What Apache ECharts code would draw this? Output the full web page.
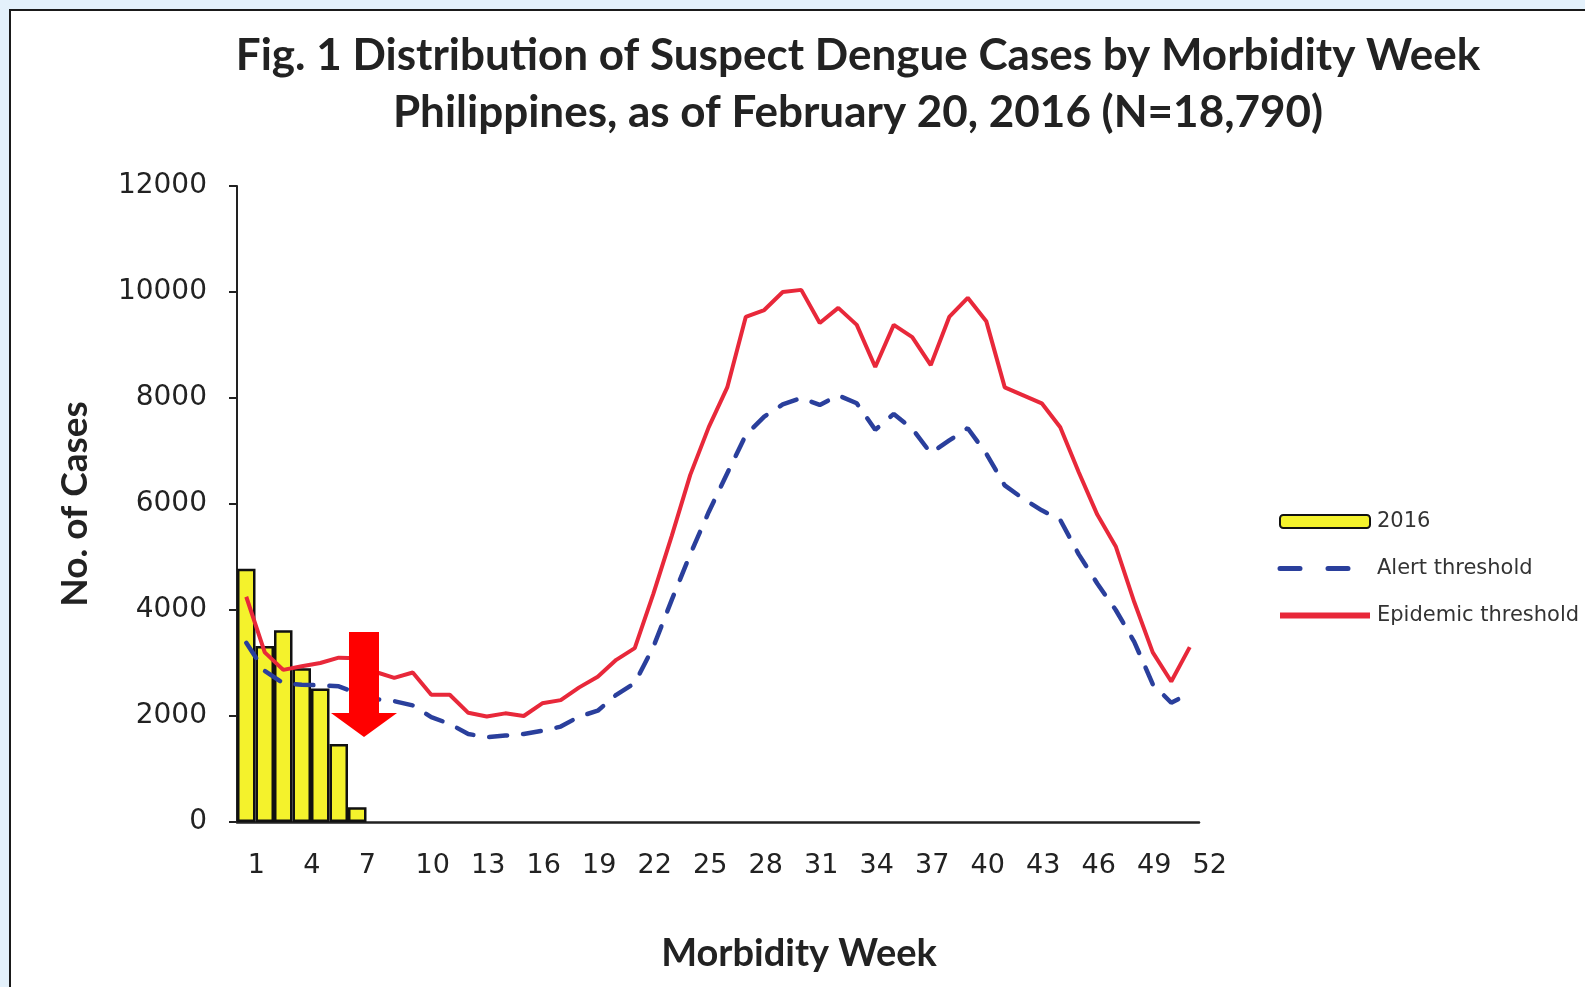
<!DOCTYPE html>
<html>
<head>
<meta charset="utf-8">
<script src="https://cdn.jsdelivr.net/npm/echarts@6/dist/echarts.min.js"></script>
<style>
  html, body { margin: 0; padding: 0; background: #e4f1fb; }
  #main { width: 1585px; height: 987px; }
</style>
</head>
<body>
<div id="main"></div>
<script>
// weeks 1..52
var weeks = [];
for (var i = 1; i <= 52; i++) weeks.push(String(i));

// 2016 cases, only weeks 1-7 reported so far
var cases2016 = [4780, 3320, 3620, 2900, 2520, 1470, 280];

var alertThreshold = [3380, 2850, 2620, 2590, 2580, 2560, 2430, 2320, 2280, 2200,
  1980, 1850, 1660, 1600, 1630, 1660, 1720, 1800, 1990, 2100,
  2400, 2620, 3300, 4190, 5050, 5850, 6580, 7300, 7650, 7880,
  8000, 7870, 8050, 7900, 7400, 7700, 7420, 6960, 7200, 7430,
  6950, 6350, 6100, 5880, 5700, 5050, 4500, 4000, 3400, 2600, 2250, 2430];

var epidemicThreshold = [4250, 3200, 2870, 2940, 3000, 3100, 3090, 2830, 2720, 2820,
  2400, 2400, 2060, 1990, 2050, 2000, 2240, 2300, 2540, 2740,
  3060, 3280, 4300, 5400, 6550, 7450, 8200, 9530, 9660, 10000,
  10040, 9415, 9700, 9380, 8585, 9380, 9150, 8620, 9530, 9890,
  9450, 8200, 8050, 7900, 7450, 6600, 5800, 5200, 4150, 3200, 2650, 3300];

var myChart = echarts.init(document.getElementById('main'));

myChart.setOption({
  backgroundColor: '#e4f1fb',
  animation: false,
  title: [{
    text: 'Fig. 1 Distribution of Suspect Dengue Cases by Morbidity Week\nPhilippines, as of February 20, 2016 (N=18,790)',
    left: 858,
    top: 27,
    padding: 0,
    textAlign: 'center',
    textStyle: {
      fontFamily: 'Lato',
      fontWeight: 'bold',
      fontSize: 44,
      lineHeight: 57,
      color: '#222'
    }
  }, {
    text: 'Morbidity Week',
    left: 799,
    top: 934,
    padding: 0,
    textAlign: 'center',
    textStyle: { fontFamily: 'Lato', fontWeight: 'bold', fontSize: 38, lineHeight: 40, color: '#222' }
  }],
  // white panel with the dark frame
  graphic: [{
    type: 'rect',
    z: -10,
    silent: true,
    shape: { x: 10, y: 10, width: 1620, height: 1020 },
    style: { fill: '#fff', stroke: '#1a1a1a', lineWidth: 2 }
  }, {
    // red arrow pointing at week 7
    type: 'polygon',
    z: 100,
    shape: { points: [[349, 632], [379, 632], [379, 713], [397, 713], [364, 737], [331, 713], [349, 713]] },
    style: { fill: '#ff0000' }
  }],
  legend: {
    orient: 'vertical',
    left: 1272,
    top: 506,
    itemWidth: 90,
    itemHeight: 13,
    itemGap: 26,
    textStyle: { fontFamily: 'DejaVu Sans', fontSize: 21, color: '#333', padding: [0, 0, 0, 2] },
    data: [
      { name: '2016' },
      { name: 'Alert threshold', itemStyle: { opacity: 0 }, lineStyle: { width: 5, type: [20, 28] } },
      { name: 'Epidemic threshold', itemStyle: { opacity: 0 }, lineStyle: { width: 6 } }
    ]
  },
  grid: { left: 237, right: 386, top: 186, bottom: 165, containLabel: false },
  xAxis: {
    type: 'category',
    data: weeks,
    axisLine: { lineStyle: { color: '#222', width: 2.5 } },
    axisTick: { show: false },
    axisLabel: {
      interval: 2,
      margin: 30,
      formatter: function (v) {
        return v.length === 1 ? '{a|' + v + '}' : '{b|' + v + '}';
      },
      rich: {
        a: { fontFamily: 'DejaVu Sans', fontSize: 27, color: '#222', padding: [0, 0, 0, 20] },
        b: { fontFamily: 'DejaVu Sans', fontSize: 27, color: '#222', padding: [0, 0, 0, 40] }
      }
    }
  },
  yAxis: {
    type: 'value',
    min: 0,
    max: 12000,
    interval: 2000,
    name: 'No. of Cases',
    nameLocation: 'middle',
    nameGap: 143,
    nameRotate: 90,
    nameTextStyle: { fontFamily: 'Lato', fontWeight: 'bold', fontSize: 37, color: '#222' },
    axisLine: { show: true, lineStyle: { color: '#222', width: 2 } },
    axisTick: { show: true, length: 8, lineStyle: { color: '#222', width: 2 } },
    axisLabel: {
      margin: 30,
      fontFamily: 'DejaVu Sans',
      fontSize: 28,
      color: '#222',
      formatter: function (v) { return String(v); }
    },
    splitLine: { show: false }
  },
  series: [{
    name: '2016',
    type: 'bar',
    data: cases2016,
    barCategoryGap: '0%',
    itemStyle: { color: '#f4f22c', borderColor: '#111', borderWidth: 2.5 }
  }, {
    name: 'Alert threshold',
    type: 'line',
    data: alertThreshold,
    symbol: 'none',
    lineStyle: { color: '#2a3f9c', width: 4.5, type: [18, 16], cap: 'round' },
    itemStyle: { color: '#2a3f9c' }
  }, {
    name: 'Epidemic threshold',
    type: 'line',
    data: epidemicThreshold,
    symbol: 'none',
    lineStyle: { color: '#e8283a', width: 4 },
    itemStyle: { color: '#e8283a' }
  }]
});
</script>
</body>
</html>
